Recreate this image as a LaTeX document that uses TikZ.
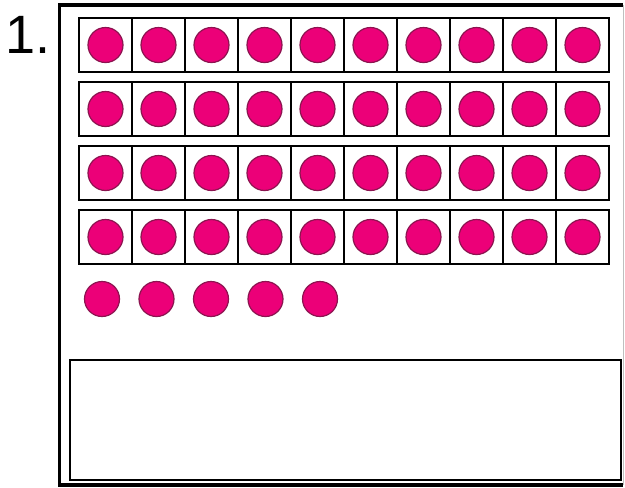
\documentclass[tikz,border=0pt]{standalone}
\usepackage{fontspec}
\setmainfont{Liberation Sans}
\definecolor{dotfill}{RGB}{236,0,120}
\definecolor{dotedge}{RGB}{140,20,80}
\begin{document}
\begin{tikzpicture}[x=1pt,y=-1pt,
  cell/.style={draw=black,line width=1.6pt,minimum width=53pt,minimum height=54pt,inner sep=0pt,outer sep=0pt},
  dot/.style={circle,fill=dotfill,draw=dotedge,line width=1.2pt,minimum size=35pt,inner sep=0pt},
  frame/.style={line width=3.5pt,black}]
\useasboundingbox (0,0) rectangle (625,488);
\fill[white] (0,0) rectangle (625,488);
% outer frame
\draw[frame] (623,5) -- (59.5,5) -- (59.5,485) -- (623,485);
\draw[line width=0.8pt,black!25] (623,5) -- (623,485);
% label
\node[anchor=base west,font=\fontsize{54}{56}\selectfont,inner sep=0pt] (lbl) at (5,53) {1.};
% ten frames
\foreach \r in {0,1,2,3}{
  \foreach \c in {0,...,9}{
    \node[cell] (c\r\c) at ({79+53*\c+26.5},{18+64*\r+27}) {};
    \node[dot] (d\r\c) at (c\r\c.center) {};
  }
}
% loose dots
\foreach \c in {0,...,4}{
  \node[dot] (e\c) at ({102+54.5*\c},299) {};
}
% answer box
\node[draw=black,line width=2pt,minimum width=551pt,minimum height=120pt,inner sep=0pt,anchor=north west] (ans) at (69,359) {};
\end{tikzpicture}
\end{document}
